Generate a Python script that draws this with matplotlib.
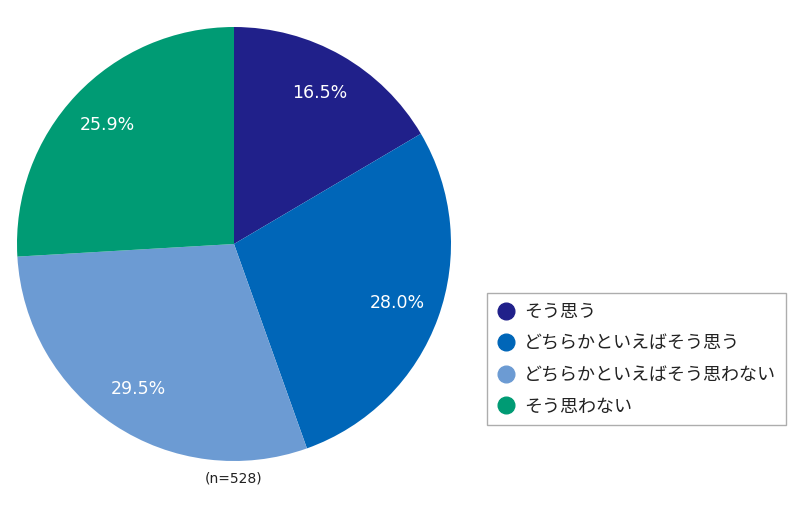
import matplotlib.pyplot as plt
from matplotlib.lines import Line2D

plt.rcParams['font.family'] = ['Noto Sans CJK JP', 'DejaVu Sans']

labels = ["そう思う", "どちらかといえばそう思う", "どちらかといえばそう思わない", "そう思わない"]
values = [16.5, 28.0, 29.5, 25.9]
colors = ["#20208a", "#0066b8", "#6c9bd3", "#009b74"]

fig = plt.figure(figsize=(8, 5.13), dpi=100)
W, H = 800, 513
cx, cy, r = 234, 244, 217
ax = fig.add_axes([(cx - r) / W, (H - cy - r) / H, 2 * r / W, 2 * r / H])

wedges, texts, autotexts = ax.pie(
    values, colors=colors, startangle=90, counterclock=False,
    autopct='%.1f%%', pctdistance=0.80, radius=1,
    wedgeprops=dict(linewidth=0),
    textprops=dict(color='white', fontsize=12.5, family=['DejaVu Sans']))
ax.set_xlim(-1, 1)
ax.set_ylim(-1, 1)
ax.set_aspect('auto')
ax.axis('off')

fig.text(cx / W, 1 - 478 / H, "(n=528)", ha='center', va='center',
         fontsize=10, family=['DejaVu Sans'], color='#222222')

handles = [Line2D([], [], marker='o', linestyle='none', markersize=12,
                  markerfacecolor=c, markeredgecolor=c) for c in colors]
leg = fig.legend(handles, labels, loc='upper left',
                 bbox_to_anchor=(487 / W, 1 - 293 / H), borderaxespad=0,
                 fontsize=13, frameon=True, fancybox=False,
                 handlelength=1.05, handletextpad=0.45, labelspacing=0.75,
                 borderpad=0.55, edgecolor='#999999')
leg.get_frame().set_linewidth(1.0)
for t in leg.get_texts():
    t.set_color('#222222')

fig.savefig("out.png", dpi=100)
